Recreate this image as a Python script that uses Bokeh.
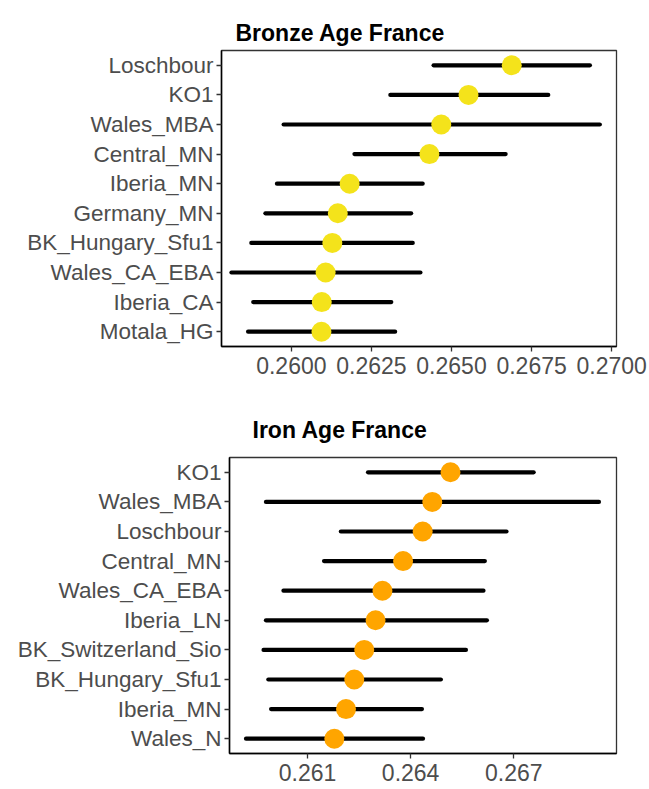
from bokeh.plotting import figure
from bokeh.layouts import column
from bokeh.models import ColumnDataSource, FactorRange, Range1d, FixedTicker
from bokeh.embed import file_html
from bokeh.resources import INLINE

# Bronze Age France: populations listed top to bottom
bronze_pops = ["Loschbour", "KO1", "Wales_MBA", "Central_MN", "Iberia_MN",
               "Germany_MN", "BK_Hungary_Sfu1", "Wales_CA_EBA", "Iberia_CA", "Motala_HG"]
bronze_est = [0.26688, 0.26553, 0.26468, 0.26431, 0.26182,
              0.26145, 0.26128, 0.26107, 0.26095, 0.26094]
bronze_lo = [0.26444, 0.26309, 0.25976, 0.26197, 0.25955,
             0.25919, 0.25875, 0.25813, 0.25881, 0.25865]
bronze_hi = [0.26932, 0.26802, 0.26963, 0.26669, 0.26410,
             0.26374, 0.26379, 0.26403, 0.26312, 0.26324]
bronze_ticks = [0.2600, 0.2625, 0.2650, 0.2675, 0.2700]

# Iron Age France: populations listed top to bottom
iron_pops = ["KO1", "Wales_MBA", "Loschbour", "Central_MN", "Wales_CA_EBA",
             "Iberia_LN", "BK_Switzerland_Sio", "BK_Hungary_Sfu1", "Iberia_MN", "Wales_N"]
iron_est = [0.26516, 0.26463, 0.26435, 0.26378, 0.26318,
            0.26298, 0.26265, 0.26236, 0.26212, 0.26178]
iron_lo = [0.26276, 0.25979, 0.26197, 0.26148, 0.26030,
           0.25979, 0.25972, 0.25986, 0.25994, 0.25921]
iron_hi = [0.26758, 0.26948, 0.26679, 0.26616, 0.26612,
           0.26622, 0.26561, 0.26488, 0.26433, 0.26436]
iron_ticks = [0.261, 0.264, 0.267]

LABEL_FONT = "Liberation Sans"


def forest(title, pops, est, lo, hi, ticks, x_range, color, fmt, height,
           border_left, border_right, border_top, border_bottom,
           title_offset, title_standoff):
    src = ColumnDataSource(dict(pop=pops, est=est, lo=lo, hi=hi))
    p = figure(width=649, height=height, output_backend="svg", toolbar_location=None,
               y_range=FactorRange(factors=list(reversed(pops))),
               x_range=Range1d(*x_range),
               min_border_left=border_left, min_border_right=border_right,
               min_border_top=border_top, min_border_bottom=border_bottom)
    # interval bars first, point estimates on top
    p.segment(x0="lo", x1="hi", y0="pop", y1="pop", source=src,
              line_color="black", line_width=4.2, line_cap="round")
    p.scatter(x="est", y="pop", source=src, size=20,
              fill_color=color, line_color=None)

    p.title.text = title
    p.title.align = "left"
    p.title.offset = title_offset
    p.title.text_font = LABEL_FONT
    p.title.text_font_style = "bold"
    p.title.text_font_size = "23px"
    p.title.text_color = "black"
    p.title.standoff = title_standoff

    p.xgrid.visible = False
    p.ygrid.visible = False
    p.outline_line_color = "#333333"
    p.outline_line_width = 1.3

    p.xaxis.ticker = FixedTicker(ticks=ticks)
    p.xaxis.major_label_overrides = {t: fmt.format(t) for t in ticks}
    p.xaxis.minor_tick_line_color = None
    p.yaxis.minor_tick_line_color = None
    for ax in (p.xaxis, p.yaxis):
        ax.axis_line_color = "black"
        ax.axis_line_width = 1.5
        ax.major_tick_line_color = "#333333"
        ax.major_tick_line_width = 1.3
        ax.major_tick_in = 0
        ax.major_tick_out = 5
        ax.major_label_text_font = LABEL_FONT
        ax.major_label_text_color = "#4d4d4d"
    p.xaxis.major_label_text_font_size = "23px"
    p.xaxis.major_label_standoff = 5
    p.yaxis.major_label_text_font_size = "22.5px"
    p.yaxis.major_label_standoff = 3
    return p


top = forest("Bronze Age France", bronze_pops, bronze_est, bronze_lo, bronze_hi,
             bronze_ticks, (0.25782, 0.27015), "#F4E31B", "{:.4f}", 400,
             border_left=221, border_right=33, border_top=50, border_bottom=54,
             title_offset=14, title_standoff=10)
bottom = forest("Iron Age France", iron_pops, iron_est, iron_lo, iron_hi,
                iron_ticks, (0.25873, 0.26999), "#FFA500", "{:.3f}", 389,
                border_left=229, border_right=33, border_top=56, border_bottom=36,
                title_offset=23, title_standoff=29)

# each panel keeps its own frame geometry
layout = column(column(top), column(bottom), spacing=0)
open("out.html", "w").write(file_html(layout, INLINE))
